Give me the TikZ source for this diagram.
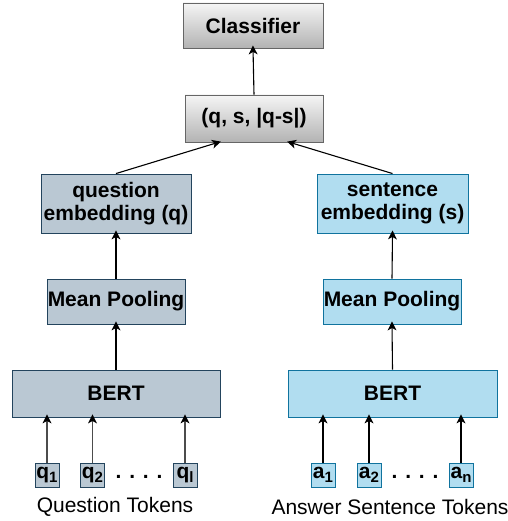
\documentclass[tikz,border=0pt]{standalone}
\usepackage{fontspec}
\setmainfont{Liberation Sans}
\usetikzlibrary{decorations.markings}
\definecolor{qfill}{HTML}{BAC8D3}
\definecolor{qline}{HTML}{23445D}
\definecolor{sfill}{HTML}{B1DDF0}
\definecolor{sline}{HTML}{10739E}
\definecolor{gtop}{HTML}{F5F5F5}
\definecolor{gbot}{HTML}{B3B3B3}
\definecolor{gline}{HTML}{666666}
\newcommand{\tok}[2]{#1\raisebox{-4pt}{\fontsize{15}{15}\selectfont #2}}
\begin{document}
\begin{tikzpicture}[x=1pt,y=-1pt,
  font=\fontsize{21}{23}\selectfont\bfseries,
  box/.style={draw, line width=0.9pt, inner sep=0pt, align=center},
  graybox/.style={box, draw=gline, top color=gtop, bottom color=gbot},
  qbox/.style={box, draw=qline, fill=qfill},
  sbox/.style={box, draw=sline, fill=sfill},
  qtok/.style={qbox, minimum width=24pt, minimum height=24pt},
  stok/.style={sbox, minimum width=24pt, minimum height=24pt},
  % connector with a notched, filled head drawn at its end
  arr/.style={line width=1.1pt, shorten >=3pt,
    postaction={decorate, decoration={markings,
      mark=at position 1 with {\fill[black] (3pt,0pt) -- (-6pt,4.5pt) -- (-3.5pt,0pt) -- (-6pt,-4.5pt) -- cycle;}}}},
  caption/.style={font=\fontsize{21}{23}\selectfont}
]
\useasboundingbox (0,0) rectangle (507,521);

% top: classifier and concatenated features
\node[graybox, minimum width=140pt, minimum height=45pt] (cls) at (253,25.5) {Classifier};
\node[graybox, minimum width=138pt, minimum height=47pt] (cat) at (254,118.5) {(q, s, |q-s|)};

% question branch
\node[qbox, minimum width=150pt, minimum height=59pt] (qemb) at (116,203.5) {question\\embedding (q)};
\node[qbox, minimum width=138pt, minimum height=45pt] (qpool) at (116,301.5) {Mean Pooling};
\node[qbox, minimum width=208pt, minimum height=47pt] (qbert) at (116,393.5) {BERT};
\node[qtok] (q1) at (47,475) {\tok{q}{1}};
\node[qtok] (q2) at (92.5,475) {\tok{q}{2}};
\node[qtok] (ql) at (185,475) {\tok{q}{l}};
\node[anchor=base] (qdots) at (139,478) {. . . .};
\node[caption] (qcap) at (115,507) {Question Tokens};

% answer sentence branch
\node[sbox, minimum width=151pt, minimum height=59pt] (semb) at (392.5,203.5) {sentence\\embedding (s)};
\node[sbox, minimum width=138pt, minimum height=45pt] (spool) at (392,301.5) {Mean Pooling};
\node[sbox, minimum width=209pt, minimum height=47pt] (sbert) at (392.5,393.5) {BERT};
\node[stok] (a1) at (323,475) {\tok{a}{1}};
\node[stok] (a2) at (369,475) {\tok{a}{2}};
\node[stok] (an) at (461,475) {\tok{a}{n}};
\node[anchor=base] (sdots) at (415,478) {. . . .};
\node[caption] (scap) at (390,507) {Answer Sentence Tokens};

% connectors
\draw[arr] (cat.north) -- (cls.south);
\draw[arr] (qemb.north) -- ([xshift=-36pt]cat.south);
\draw[arr] (semb.north) -- ([xshift=36pt]cat.south);
\draw[arr] (qpool.north) -- (qemb.south);
\draw[arr] (spool.north) -- (semb.south);
\draw[arr] (qbert.north) -- (qpool.south);
\draw[arr] (sbert.north) -- (spool.south);
\foreach \t in {q1,q2,ql} \draw[arr, draw=black!70] (\t.north) -- (\t.north |- qbert.south);
\foreach \t in {a1,a2,an} \draw[arr] (\t.north) -- (\t.north |- sbert.south);
\end{tikzpicture}
\end{document}
